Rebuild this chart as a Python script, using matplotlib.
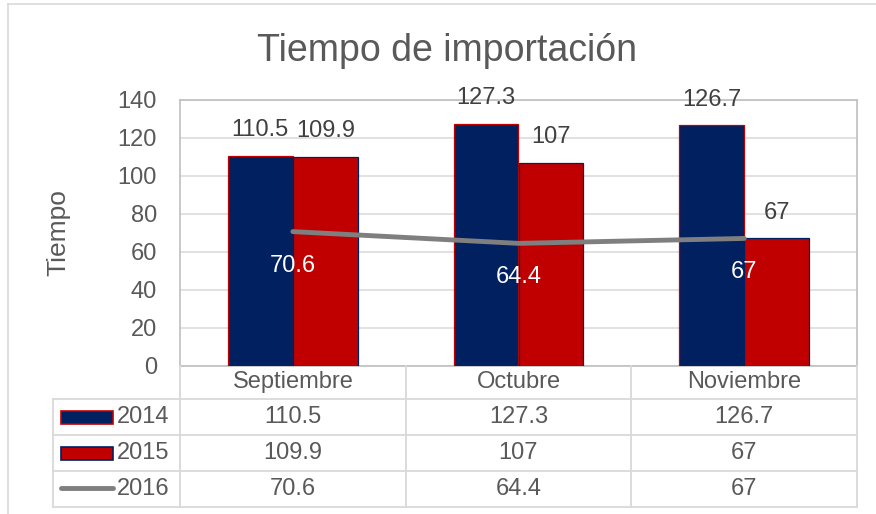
import matplotlib
matplotlib.use("Agg")
import matplotlib.pyplot as plt
from matplotlib.lines import Line2D
from matplotlib.patches import Rectangle
from matplotlib.transforms import blended_transform_factory
import numpy as np

plt.rcParams['font.family'] = ['Liberation Sans', 'DejaVu Sans']

categories = ["Septiembre", "Octubre", "Noviembre"]
series_names = ["2014", "2015", "2016"]
v2014 = [110.5, 127.3, 126.7]
v2015 = [109.9, 107, 67]
v2016 = [70.6, 64.4, 67]
yticks = [0, 20, 40, 60, 80, 100, 120, 140]
title = "Tiempo de importación"
ylabel = "Tiempo"

NAVY = "#002060"
RED = "#C00000"
GRAY = "#7F7F7F"
TXT = "#595959"
GRID = "#D9D9D9"
BORDER = "#BFBFBF"

W, H = 876, 514
fig = plt.figure(figsize=(W / 100, H / 100), dpi=100)


def fx(px):
    return px / W


def fy(py):
    return 1 - py / H


ax = fig.add_axes([fx(180), fy(365.5), fx(857) - fx(180), fy(100) - fy(365.5)])

x = np.arange(len(categories))
bw = 0.288
ax.bar(x - bw / 2, v2014, bw, color=NAVY, edgecolor=RED, linewidth=0.9, zorder=3)
ax.bar(x + bw / 2, v2015, bw, color=RED, edgecolor=NAVY, linewidth=0.9, zorder=3)
ax.plot(x, v2016, color=GRAY, lw=3.5, solid_capstyle='round', solid_joinstyle='round', zorder=4)

lab_fs = 17
for xi, v in zip(x - bw / 2, v2014):
    ax.annotate(f"{v:g}", (xi, v), xytext=(0, 18.5), textcoords='offset points',
                ha='center', va='center', fontsize=lab_fs, color="#404040", zorder=5)
for xi, v in zip(x + bw / 2, v2015):
    ax.annotate(f"{v:g}", (xi, v), xytext=(0, 18.5), textcoords='offset points',
                ha='center', va='center', fontsize=lab_fs, color="#404040", zorder=5)
for xi, v in zip(x, v2016):
    ax.annotate(f"{v:g}", (xi, v), xytext=(0, -24.5), textcoords='offset points',
                ha='center', va='center', fontsize=lab_fs, color="white", zorder=5)

ax.set_xlim(-0.5, len(categories) - 0.5)
ax.set_ylim(0, 140)
ax.set_yticks(yticks)
ax.set_yticklabels([str(t) for t in yticks], fontsize=lab_fs, color=TXT)
ax.tick_params(axis='y', length=0, pad=16.5)
ax.set_xticks([])
ax.yaxis.grid(True, color=GRID, lw=1.1, zorder=0)
ax.set_axisbelow(True)
for s in ax.spines.values():
    s.set_color(BORDER)
    s.set_linewidth(1.2)

# title and y label
fig.text(fx(447), fy(61), title, ha='center', va='baseline', fontsize=27, color=TXT)
fig.text(fx(58), fy(233), ylabel, ha='center', va='center', rotation=90,
         fontsize=19, color=TXT)

# chart outer border
fig.add_artist(Line2D([fx(8), fx(8)], [fy(4), fy(520)], transform=fig.transFigure,
                      color=GRID, lw=1.2))
fig.add_artist(Line2D([fx(8), fx(880)], [fy(4), fy(4)], transform=fig.transFigure,
                      color=GRID, lw=1.2))

# data table
tr = blended_transform_factory(ax.transData, fig.transFigure)
rows_y = [366, 399, 435, 471, 507]
tl = 1.3
for ry in rows_y[1:]:
    fig.add_artist(Line2D([fx(53), fx(180)], [fy(ry)] * 2, transform=fig.transFigure, color=GRID, lw=tl))
    fig.add_artist(Line2D([-0.5, len(categories) - 0.5], [fy(ry)] * 2, transform=tr, color=GRID, lw=tl))
for b in np.arange(len(categories) + 1) - 0.5:
    fig.add_artist(Line2D([b, b], [fy(366), fy(507)], transform=tr, color=GRID, lw=tl))
fig.add_artist(Line2D([fx(53), fx(53)], [fy(399), fy(507)], transform=fig.transFigure, color=GRID, lw=tl))

hdr_y = 382
row_centers = [417, 453, 489]
for xi, c in zip(x, categories):
    fig.text(xi, fy(hdr_y), c, transform=tr, ha='center', va='center', fontsize=lab_fs, color=TXT)
for rc, vals in zip(row_centers, [v2014, v2015, v2016]):
    for xi, v in zip(x, vals):
        fig.text(xi, fy(rc), f"{v:g}", transform=tr, ha='center', va='center',
                 fontsize=lab_fs, color=TXT)

# legend keys in table
for rc, face, edge in [(row_centers[0], NAVY, RED), (row_centers[1], RED, NAVY)]:
    fig.add_artist(Rectangle((fx(61), fy(rc + 6.5)), fx(113) - fx(61), fy(rc - 6.5) - fy(rc + 6.5),
                             transform=fig.transFigure, facecolor=face, edgecolor=edge, lw=1.2))
fig.add_artist(Line2D([fx(61), fx(113)], [fy(row_centers[2] - 1)] * 2, transform=fig.transFigure,
                      color=GRAY, lw=3.5, solid_capstyle='round'))
for rc, nm in zip(row_centers, series_names):
    fig.text(fx(117), fy(rc), nm, ha='left', va='center', fontsize=lab_fs, color=TXT)

fig.savefig("out.png", dpi=100, facecolor="white")
